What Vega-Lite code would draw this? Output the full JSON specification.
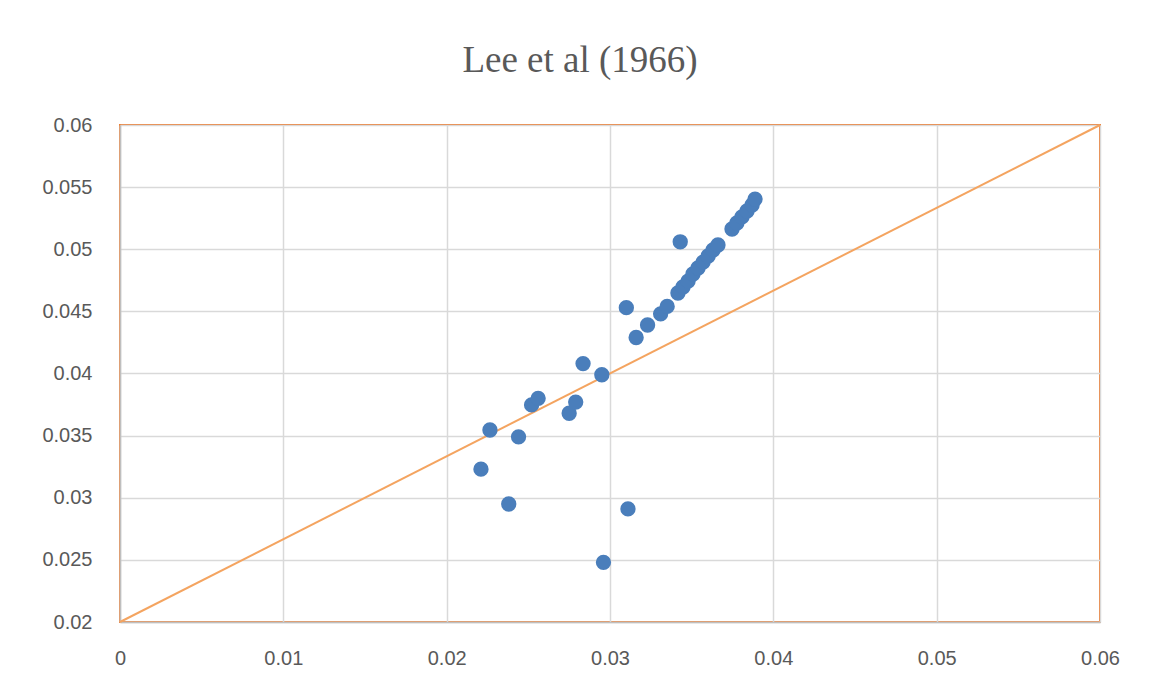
{
  "$schema": "https://vega.github.io/schema/vega-lite/v6.json",
  "width": 980,
  "height": 497,
  "autosize": {"type": "none"},
  "padding": {"left": 120, "top": 125, "right": 58, "bottom": 71},
  "background": "white",
  "title": {
    "text": "Lee et al (1966)",
    "font": "Liberation Serif",
    "fontSize": 37,
    "fontWeight": "normal",
    "color": "#595959",
    "anchor": "middle",
    "dx": -30,
    "offset": 35
  },
  "config": {
    "view": {"stroke": "#ED7D31", "strokeWidth": 2},
    "axis": {
      "labelFont": "Liberation Sans",
      "labelFontSize": 20,
      "labelColor": "#595959",
      "gridColor": "#D9D9D9",
      "gridWidth": 1.5,
      "domainColor": "#BFBFBF",
      "domainWidth": 1.5,
      "ticks": false,
      "labelFlush": false,
      "title": null
    }
  },
  "datasets": {
    "points": [
      {"x": 0.0221, "y": 0.0323},
      {"x": 0.02265, "y": 0.03545},
      {"x": 0.0238, "y": 0.0295},
      {"x": 0.0244, "y": 0.0349},
      {"x": 0.0252, "y": 0.03747},
      {"x": 0.0256, "y": 0.0380},
      {"x": 0.0275, "y": 0.0368},
      {"x": 0.0279, "y": 0.0377},
      {"x": 0.02835, "y": 0.0408},
      {"x": 0.0295, "y": 0.0399},
      {"x": 0.0296, "y": 0.0248},
      {"x": 0.0310, "y": 0.0453},
      {"x": 0.0311, "y": 0.0291},
      {"x": 0.0316, "y": 0.0429},
      {"x": 0.0323, "y": 0.0439},
      {"x": 0.0331, "y": 0.0448},
      {"x": 0.0335, "y": 0.0454},
      {"x": 0.0343, "y": 0.0506},
      {"x": 0.03416, "y": 0.04648},
      {"x": 0.03447, "y": 0.04696},
      {"x": 0.03478, "y": 0.04744},
      {"x": 0.03508, "y": 0.04801},
      {"x": 0.03539, "y": 0.04849},
      {"x": 0.0357, "y": 0.04897},
      {"x": 0.03601, "y": 0.04946},
      {"x": 0.03631, "y": 0.04994},
      {"x": 0.03661, "y": 0.05034},
      {"x": 0.03747, "y": 0.05163},
      {"x": 0.03777, "y": 0.05211},
      {"x": 0.03808, "y": 0.0526},
      {"x": 0.03839, "y": 0.05308},
      {"x": 0.0387, "y": 0.05356},
      {"x": 0.03888, "y": 0.05404}
    ],
    "line": [
      {"x": 0, "y": 0.02},
      {"x": 0.06, "y": 0.06}
    ]
  },
  "layer": [
    {
      "data": {"name": "line"},
      "mark": {"type": "line", "color": "#F4A460", "strokeWidth": 2},
      "encoding": {
        "x": {"field": "x", "type": "quantitative"},
        "y": {"field": "y", "type": "quantitative"}
      }
    },
    {
      "data": {"name": "points"},
      "mark": {"type": "circle", "color": "#4A7EBB", "opacity": 1, "size": 235},
      "encoding": {
        "x": {
          "field": "x", "type": "quantitative",
          "scale": {"domain": [0, 0.06], "nice": false, "zero": false},
          "axis": {"values": [0, 0.01, 0.02, 0.03, 0.04, 0.05, 0.06], "format": "~g", "labelPadding": 26}
        },
        "y": {
          "field": "y", "type": "quantitative",
          "scale": {"domain": [0.02, 0.06], "nice": false, "zero": false},
          "axis": {"values": [0.02, 0.025, 0.03, 0.035, 0.04, 0.045, 0.05, 0.055, 0.06], "format": "~g", "labelPadding": 28}
        }
      }
    }
  ]
}
